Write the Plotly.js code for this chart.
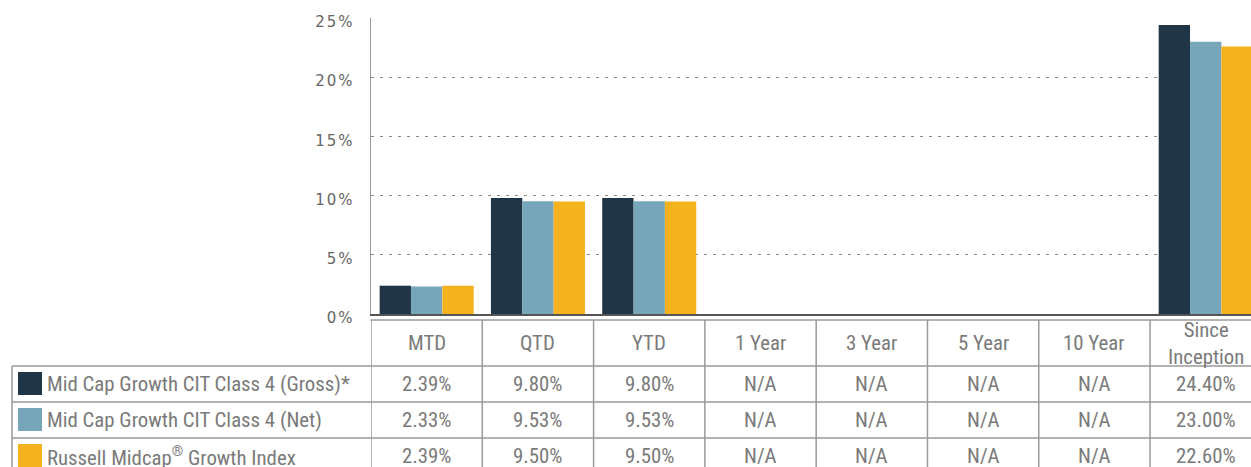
<!DOCTYPE html>
<html>
<head>
<meta charset="utf-8">
<script src="https://cdn.plot.ly/plotly-3.0.1.min.js"></script>
<style>
  html, body { margin: 0; padding: 0; background: #fff; overflow: hidden; }
  #chart { width: 1251px; height: 467px; }
  .ytick text { letter-spacing: 2px; }
</style>
</head>
<body>
<div id="chart"></div>
<script>
const categories = ['MTD', 'QTD', 'YTD', '1 Year', '3 Year', '5 Year', '10 Year', 'Since Inception'];
const headerLabels = ['MTD', 'QTD', 'YTD', '1 Year', '3 Year', '5 Year', '10 Year', 'Since<br>Inception'];
const seriesNames = ['Mid Cap Growth CIT Class 4 (Gross)*', 'Mid Cap Growth CIT Class 4 (Net)', 'Russell Midcap<sup>®</sup> Growth Index'];
const grossValues = [2.39, 9.80, 9.80, null, null, null, null, 24.40];
const netValues = [2.33, 9.53, 9.53, null, null, null, null, 23.00];
const indexValues = [2.39, 9.50, 9.50, null, null, null, null, 22.60];
const seriesColors = ['#203646', '#77a6bb', '#f3b21e'];
const yTickVals = [0, 5, 10, 15, 20, 25];
const yTickText = ['0%', '5%', '10%', '15%', '20%', '25%'];

const allSeries = [grossValues, netValues, indexValues];

// pixel helpers for layout placement (plot area geometry)
const L = 371, T = 18, PW = 880, PH = 296;
const pxX = p => (p - L) / PW;
const pxY = p => (T + PH - p) / PH;

const traces = allSeries.map((vals, i) => ({
  type: 'bar',
  x: categories,
  y: vals,
  name: seriesNames[i],
  marker: { color: seriesColors[i] },
  hoverinfo: 'skip'
}));

const lineColor = '#9a9a9a';
const txtColor = '#7a7a7a';
const tblFont = { family: "'Roboto Condensed', 'Liberation Sans Narrow', 'Arial Narrow', Roboto, sans-serif", size: 20.8, color: txtColor, weight: 400 };

const shapes = [];
const annotations = [];

// header top border
shapes.push({ type: 'line', xref: 'paper', yref: 'paper', x0: pxX(370.5), x1: 1.02, y0: pxY(320), y1: pxY(320), line: { color: lineColor, width: 1.5 } });
// column verticals
for (let i = 0; i <= categories.length; i++) {
  shapes.push({ type: 'line', xref: 'x', yref: 'paper', x0: i - 0.5, x1: i - 0.5, y0: pxY(320), y1: pxY(480), line: { color: lineColor, width: 1.5 } });
}
// row borders (rows extend to legend column)
const rowTops = [366, 402, 438];
rowTops.forEach(t => {
  shapes.push({ type: 'line', xref: 'paper', yref: 'paper', x0: pxX(12), x1: 1.02, y0: pxY(t), y1: pxY(t), line: { color: lineColor, width: 1.5 } });
});
// left border of legend column
shapes.push({ type: 'line', xref: 'paper', yref: 'paper', x0: pxX(12), x1: pxX(12), y0: pxY(366), y1: pxY(480), line: { color: lineColor, width: 1.5 } });
// swatches
seriesColors.forEach((c, i) => {
  const t = rowTops[i];
  shapes.push({ type: 'rect', xref: 'paper', yref: 'paper', x0: pxX(18), x1: pxX(42), y0: pxY(t + 6), y1: pxY(t + 29), fillcolor: c, line: { width: 0 } });
});

// header labels
headerLabels.forEach((h, i) => {
  annotations.push({ xref: 'x', yref: 'paper', x: categories[i], y: pxY(343), text: h, showarrow: false, xanchor: 'center', yanchor: 'middle', font: tblFont });
});
// rows
allSeries.forEach((vals, r) => {
  const cy = rowTops[r] + 18;
  annotations.push({ xref: 'paper', yref: 'paper', x: pxX(45), y: pxY(cy), text: seriesNames[r], showarrow: false, xanchor: 'left', yanchor: 'middle', font: tblFont });
  vals.forEach((v, i) => {
    annotations.push({ xref: 'x', yref: 'paper', x: categories[i], y: pxY(cy), text: v === null ? 'N/A' : v.toFixed(2) + '%', showarrow: false, xanchor: 'center', yanchor: 'middle', font: tblFont });
  });
});

const layout = {
  width: 1251, height: 467,
  margin: { l: L, r: 1251 - L - PW, t: T, b: 467 - T - PH, pad: 0 },
  paper_bgcolor: '#ffffff', plot_bgcolor: '#ffffff',
  showlegend: false,
  barmode: 'group', bargap: 0.155, bargroupgap: 0,
  xaxis: {
    type: 'category', range: [-0.5, 7.407], showticklabels: false, ticks: '',
    showgrid: false, zeroline: false, showline: true, linecolor: '#555555', linewidth: 1.5, fixedrange: true
  },
  yaxis: {
    range: [0, 25], tickvals: yTickVals, ticktext: yTickText,
    showgrid: true, gridcolor: '#8a8a8a', gridwidth: 1, griddash: '3px,6px',
    zeroline: false, showline: true, linecolor: '#9a9a9a', linewidth: 1.5,
    ticks: '', ticklabelstandoff: 12, ticklabelshift: 4,
    tickfont: { family: "'DejaVu Sans', sans-serif", size: 15, color: '#666666' }, fixedrange: true
  },
  shapes: shapes,
  annotations: annotations
};

Plotly.newPlot('chart', traces, layout, { displayModeBar: false, staticPlot: true });
</script>
</body>
</html>
